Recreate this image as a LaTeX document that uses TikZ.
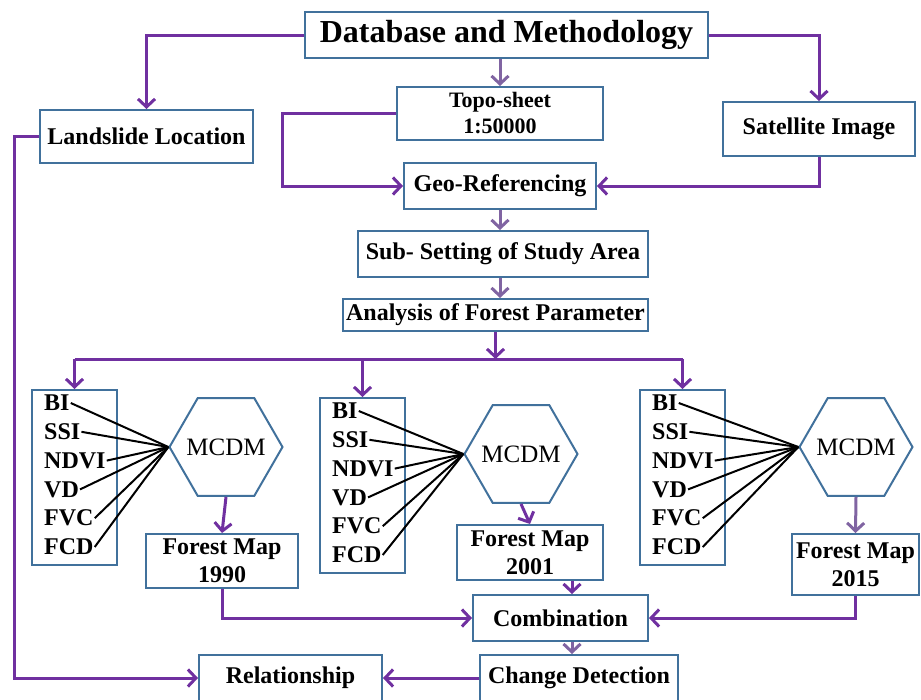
\documentclass[tikz,border=0pt]{standalone}
\usepackage{fontspec}
\setmainfont{Liberation Serif}
\usepackage{tikz}
\usetikzlibrary{arrows.meta, shapes.geometric}
\definecolor{boxblue}{RGB}{65,113,156}
\definecolor{flowpurple}{RGB}{112,48,160}
\definecolor{flowlilac}{RGB}{128,100,162}

\begin{document}
\begin{tikzpicture}[x=1pt, y=-1pt,
        box/.style={draw=boxblue, line width=2pt, fill=white, inner sep=0pt, align=center, font=\fontsize{24}{28}\selectfont\bfseries},
        hexa/.style={draw=boxblue, line width=2pt, fill=white, regular polygon, regular polygon sides=6, minimum size=113pt, inner sep=0pt, font=\fontsize{25}{26}\selectfont},
        tag/.style={inner sep=1pt, anchor=west, font=\fontsize{24}{25}\selectfont\bfseries},
        flow/.style={draw=flowpurple, line width=3pt, -{Straight Barb[length=8pt,width=17pt]}},
        softflow/.style={flow, draw=flowlilac},
        link/.style={draw=black, line width=2pt}]

        \clip (0,0) rectangle (921,699);

        % Top part
        \node[box, minimum width=403pt, minimum height=46pt, font=\fontsize{32}{34}\selectfont\bfseries] (db) at (506.5,35) {Database and Methodology};
        \node[box, minimum width=213pt, minimum height=53pt] (land) at (146.5,136.5) {Landslide Location};
        \node[box, minimum width=206pt, minimum height=53pt, font=\fontsize{22}{26}\selectfont\bfseries] (topo) at (500,113.5) {Topo-sheet\\1:50000};
        \node[box, minimum width=192pt, minimum height=54pt] (sat) at (819,129) {Satellite Image};
        \node[box, minimum width=192pt, minimum height=46pt] (geo) at (500,186) {Geo-Referencing};
        \node[box, minimum width=290pt, minimum height=46pt] (sub) at (503,254) {Sub- Setting of Study Area};
        \node[box, minimum width=305pt, minimum height=32pt] (ana) at (495.5,315) {Analysis of Forest Parameter};

        % Parameter groups and MCDM
        \foreach \g/\bx/\by/\hx/\hy in {1/32/390/226/447, 2/320/398/521/454, 3/640/390/856/447} {
            \node[box, minimum width=85pt, minimum height=175pt] (grp\g) at (\bx+42.5,\by+87.5) {};
            \node[hexa] (hex\g) at (\hx,\hy) {\makebox[0pt]{MCDM}};
            \foreach \lab [count=\i] in {BI,SSI,NDVI,VD,FVC,FCD} {
                \node[tag] (lab\g-\i) at (\bx+11,\by+13+28.8*\i-28.8) {\lab};
                \draw[link] (lab\g-\i.east) -- (hex\g.west);
            }
        }

        % Maps and results
        \node[box, minimum width=152pt, minimum height=54pt] (fm1) at (222,561) {Forest Map\\1990};
        \node[box, minimum width=146pt, minimum height=55pt] (fm2) at (530,552.5) {Forest Map\\2001};
        \node[box, minimum width=127pt, minimum height=61pt] (fm3) at (855.5,564.5) {Forest Map\\2015};
        \node[box, minimum width=175pt, minimum height=46pt] (comb) at (560.5,618) {Combination};
        \node[box, minimum width=198pt, minimum height=46pt] (chg) at (579,678) {Change Detection};
        \node[box, minimum width=183pt, minimum height=46pt] (rel) at (290.5,678) {Relationship};

        % Arrows
        \draw[flow] (db.west) -| (land.north);
        \draw[flow] (db.east) -| (sat.north);
        \draw[softflow] (topo.north |- db.south) -- (topo.north);
        \draw[flow] (topo.west) -- ++(-114,0) |- (geo.west);
        \draw[flow] (sat.south) |- (geo.east);
        \draw[softflow] (geo.south) -- (geo.south |- sub.north);
        \draw[softflow] (geo.south |- sub.south) -- (geo.south |- ana.north);

        \coordinate (bus) at (496,359);
        \draw[flow] (ana.south) -- (ana.south |- bus);
        \draw[flow, -] (grp1.north |- bus) -- (grp3.north |- bus);
        \foreach \g in {1,2,3} {
            \draw[flow] (grp\g.north |- bus) -- (grp\g.north);
        }

        \draw[flow] (hex1.south) -- (fm1.north);
        \draw[flow] (hex2.south) -- (fm2.north);
        \draw[softflow] (hex3.south) -- (fm3.north);
        \draw[flow] (fm1.south) |- (comb.west);
        \draw[flow] (fm3.south) |- (comb.east);
        \draw[flow] (fm2.south -| 572,0) -- (comb.north -| 572,0);
        \draw[softflow] (comb.south -| 572,0) -- (chg.north -| 572,0);
        \draw[flow] (chg.west) -- (rel.east);
        \draw[flow] (land.west) -- ++(-25,0) |- (rel.west);
    \end{tikzpicture}
\end{document}
